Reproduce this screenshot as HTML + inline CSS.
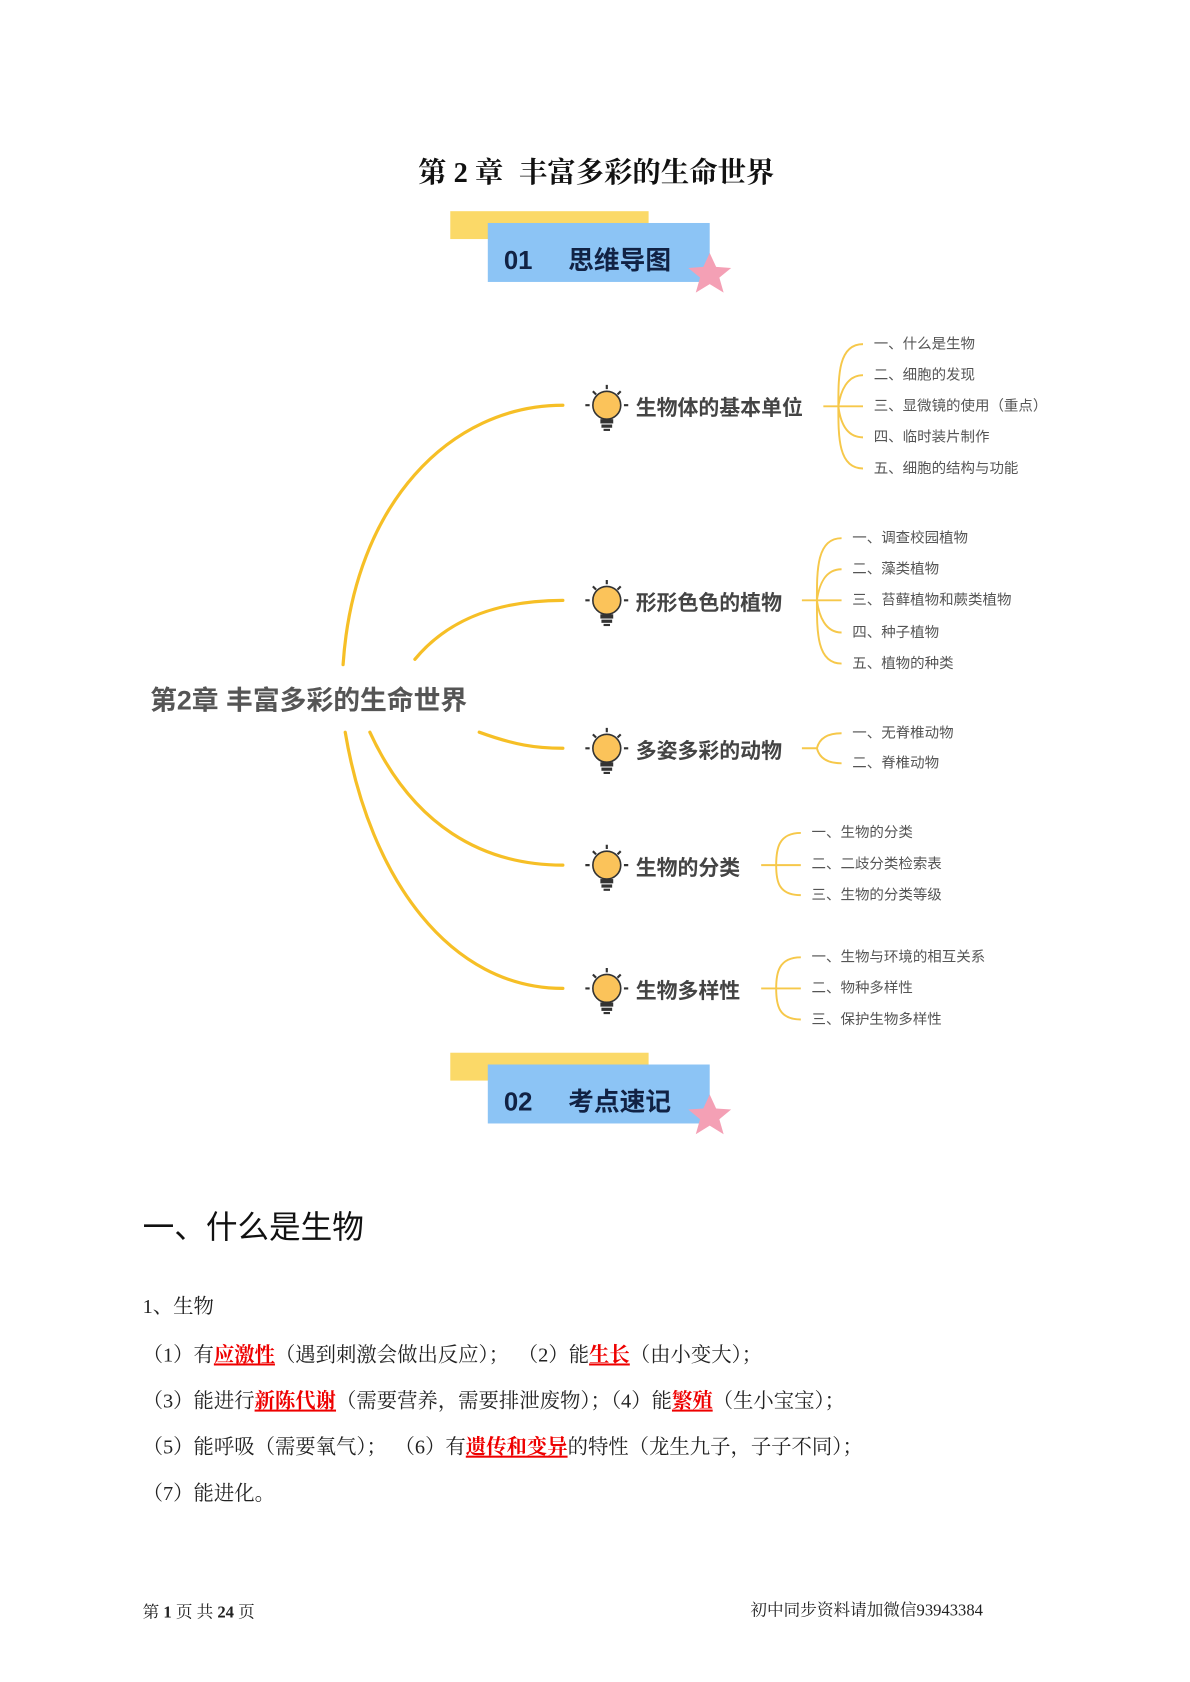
<!DOCTYPE html>
<html><head><meta charset="utf-8"><style>
html,body{margin:0;padding:0;background:#fff;}
svg{display:block}
.s{font-family:"Liberation Serif","Noto Serif CJK SC",serif;}
.a{font-family:"Liberation Sans","Noto Sans CJK SC",sans-serif;}
</style></head><body>
<svg width="1190" height="1682" viewBox="0 0 1110 1569" xmlns="http://www.w3.org/2000/svg">
<rect width="1110" height="1569" fill="#fff"/>
<text x="390" y="170" class="s" font-size="26.5" font-weight="bold" fill="#111">第 2 章</text>
<text x="484" y="170" class="s" font-size="26.5" font-weight="bold" fill="#111">丰富多彩的生命世界</text>
<g>
<rect x="420" y="197" width="185" height="26" fill="#fbd968"/>
<rect x="455" y="208" width="207" height="55" fill="#8cc4f5"/>
<text x="470" y="251" class="a" font-size="24" font-weight="bold" fill="#112244">01</text>
<text x="530" y="251" class="a" font-size="24" font-weight="bold" fill="#112244">思维导图</text>
<polygon points="662,236 668,249 682,250 671,259 675,273 662,265 649,273 653,259 642,250 656,249" fill="#f4a0b5"/>
</g>
<g transform="translate(0,785)">
<rect x="420" y="197" width="185" height="26" fill="#fbd968"/>
<rect x="455" y="208" width="207" height="55" fill="#8cc4f5"/>
<text x="470" y="251" class="a" font-size="24" font-weight="bold" fill="#112244">02</text>
<text x="530" y="251" class="a" font-size="24" font-weight="bold" fill="#112244">考点速记</text>
<polygon points="662,236 668,249 682,250 671,259 675,273 662,265 649,273 653,259 642,250 656,249" fill="#f4a0b5"/>
</g>
<g fill="none" stroke="#f6bf26" stroke-width="3" stroke-linecap="round">
<path d="M320,620 C330,470 420,378 525,378"/>
<path d="M387,615 C420,575 470,560 525,560"/>
<path d="M447,683 C480,695 500,698 525,698"/>
<path d="M345,683 C385,770 450,807 525,807"/>
<path d="M322,683 C345,820 420,922 525,922"/>
</g>
<g fill="none" stroke="#f6c84a" stroke-width="1.8">
<path d="M768,379 H780 M805,321 C782,321 782,350 782,379 C782,408 782,437 805,437 M805,350 C790,350 784,365 782,379 M805,408 C790,408 784,395 782,379 M780,379 H805"/>
<path d="M748,560 H760 M785,502 C762,502 762,531 762,560 C762,590 762,619 785,619 M785,531 C770,531 764,545 762,560 M785,590 C770,590 764,575 762,560 M760,560 H785"/>
<path d="M748,698 H762 M785,684 C770,684 764,690 762,698 C764,706 770,712 785,712"/>
<path d="M710,807 H722 M747,777 C726,777 724,792 724,807 C724,822 726,835 747,835 M722,807 H747"/>
<path d="M710,922 H722 M747,893 C726,893 724,908 724,922 C724,937 726,951 747,951 M722,922 H747"/>
</g>
<text x="140" y="662" class="a" font-size="25" font-weight="bold" fill="#555">第2章 丰富多彩的生命世界</text>
<defs>
<g id="bulb">
<circle cx="0" cy="-3" r="13" fill="#fbc35a" stroke="#333" stroke-width="1.5"/>
<rect x="-6" y="10" width="12" height="4" fill="#333"/>
<rect x="-5" y="15" width="10" height="3" fill="#333"/>
<rect x="-3" y="19" width="6" height="2" fill="#333"/>
<path d="M0,-22 V-18 M-13,-16 L-10,-13 M13,-16 L10,-13 M-20,-3 H-16 M16,-3 H20" stroke="#333" stroke-width="2"/>
</g>
</defs>
<g class="a" font-size="19.5" font-weight="bold" fill="#444">
<use href="#bulb" x="566" y="381"/><text x="593" y="387">生物体的基本单位</text>
<use href="#bulb" x="566" y="563"/><text x="593" y="569">形形色色的植物</text>
<use href="#bulb" x="566" y="701"/><text x="593" y="707">多姿多彩的动物</text>
<use href="#bulb" x="566" y="810"/><text x="593" y="816">生物的分类</text>
<use href="#bulb" x="566" y="925"/><text x="593" y="931">生物多样性</text>
</g>
<g class="a" font-size="13.5" fill="#555">
<text x="815" y="325">一、什么是生物</text>
<text x="815" y="354">二、细胞的发现</text>
<text x="815" y="383">三、显微镜的使用（重点）</text>
<text x="815" y="412">四、临时装片制作</text>
<text x="815" y="441">五、细胞的结构与功能</text>
<text x="795" y="506">一、调查校园植物</text>
<text x="795" y="535">二、藻类植物</text>
<text x="795" y="564">三、苔藓植物和蕨类植物</text>
<text x="795" y="594">四、种子植物</text>
<text x="795" y="623">五、植物的种类</text>
<text x="795" y="688">一、无脊椎动物</text>
<text x="795" y="716">二、脊椎动物</text>
<text x="757" y="781">一、生物的分类</text>
<text x="757" y="810">二、二歧分类检索表</text>
<text x="757" y="839">三、生物的分类等级</text>
<text x="757" y="897">一、生物与环境的相互关系</text>
<text x="757" y="926">二、物种多样性</text>
<text x="757" y="955">三、保护生物多样性</text>
</g>
<text x="133" y="1155" class="a" font-size="29.5" fill="#111">一、什么是生物</text>
<g class="s" font-size="19" fill="#222">
<text x="133" y="1225">1、生物</text>
<text x="133" y="1270">（1）有<tspan fill="#e00" font-weight="bold" text-decoration="underline">应激性</tspan>（遇到刺激会做出反应）；</text>
<text x="483" y="1270">（2）能<tspan fill="#e00" font-weight="bold" text-decoration="underline">生长</tspan>（由小变大）；</text>
<text x="133" y="1313">（3）能进行<tspan fill="#e00" font-weight="bold" text-decoration="underline">新陈代谢</tspan>（需要营养，需要排泄废物）；（4）能<tspan fill="#e00" font-weight="bold" text-decoration="underline">繁殖</tspan>（生小宝宝）；</text>
<text x="133" y="1356">（5）能呼吸（需要氧气）；</text>
<text x="368" y="1356">（6）有<tspan fill="#e00" font-weight="bold" text-decoration="underline">遗传和变异</tspan>的特性（龙生九子，子子不同）；</text>
<text x="133" y="1399">（7）能进化。</text>
</g>
<g class="s" font-size="15.5" fill="#222">
<text x="133" y="1509">第 <tspan font-weight="bold">1</tspan> 页 共 <tspan font-weight="bold">24</tspan> 页</text>
<text x="700" y="1507">初中同步资料请加微信93943384</text>
</g>
</svg>
</body></html>
